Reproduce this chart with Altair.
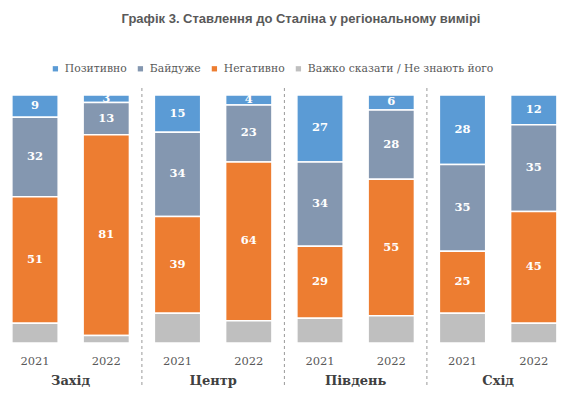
import altair as alt
import pandas as pd

regions = ["Захід", "Центр", "Південь", "Схід"]
years = ["2021", "2022"]
categories = ["Позитивно", "Байдуже", "Негативно", "Важко сказати / Не знають його"]
colors = ["#5B9BD5", "#8497B0", "#ED7D31", "#BFBFBF"]

positive = [9, 3, 15, 4, 27, 6, 28, 12]
indifferent = [32, 13, 34, 23, 34, 28, 35, 35]
negative = [51, 81, 39, 64, 29, 55, 25, 45]
hard_to_say = [8, 3, 12, 9, 10, 11, 12, 8]

series = [positive, indifferent, negative, hard_to_say]
SERIF = "DejaVu Serif"

rows = []
keys = []
for ri, r in enumerate(regions):
    for yi, y in enumerate(years):
        idx = ri * 2 + yi
        key = f"{r}|{y}"
        keys.append(key)
        for ci, c in enumerate(categories):
            rows.append({
                "key": key, "region": r, "year": y, "cat": c,
                "order": 3 - ci, "value": series[ci][idx],
                "label": "" if ci == 3 else str(series[ci][idx]),
            })
df = pd.DataFrame(rows)

region_df = pd.DataFrame({"key": [f"{r}|2021" for r in regions], "region": regions})
sep_df = pd.DataFrame({"key": [f"{r}|2022" for r in regions[:-1]]})

xscale = alt.Scale(domain=keys, range=[-8.6, 561.4], paddingInner=0, paddingOuter=0)
yscale = alt.Scale(domain=[0, 100])

base = alt.Chart(df)

bars = base.mark_bar(width=alt.RelativeBandSize(0.65), stroke="white", strokeWidth=1.5).encode(
    x=alt.X("key:N", scale=xscale, sort=keys,
            axis=alt.Axis(title=None, domain=False, ticks=False, labelAngle=0,
                          labelExpr="slice(datum.label, -4)", labelFont=SERIF,
                          labelFontSize=11.5, labelColor="#595959", labelPadding=12)),
    y=alt.Y("value:Q", stack="zero", scale=yscale, axis=None),
    color=alt.Color("cat:N", scale=alt.Scale(domain=categories, range=colors),
                    legend=alt.Legend(title=None, orient="none", direction="horizontal",
                                      legendX=42, legendY=-32, symbolType="square",
                                      symbolSize=28, symbolStrokeWidth=0,
                                      labelFont=SERIF, labelFontSize=10.8, labelLimit=400,
                                      labelColor="#595959", columnPadding=8,
                                      labelOffset=4)),
    order=alt.Order("order:Q"),
)

labels = base.transform_stack(
    stack="value", groupby=["key"], as_=["v0", "v1"], sort=[alt.SortField("order")]
).transform_calculate(
    mid="(datum.v0 + datum.v1) / 2"
).mark_text(font=SERIF, fontSize=11.5, fontWeight="bold", color="white",
            baseline="middle").encode(
    x=alt.X("key:N", scale=xscale, sort=keys),
    y=alt.Y("mid:Q", scale=yscale),
    text="label:N",
)

region_text = alt.Chart(region_df).mark_text(
    font=SERIF, fontSize=13, fontWeight="bold", color="#404040", baseline="middle"
).encode(
    x=alt.X("key:N", scale=xscale, sort=keys, bandPosition=1),
    y=alt.value(286),
    text="region:N",
)

seps = alt.Chart(sep_df).mark_rule(color="#9a9a9a", strokeWidth=1, strokeDash=[3, 3]).encode(
    x=alt.X("key:N", scale=xscale, sort=keys, bandPosition=1),
    y=alt.value(-7),
    y2=alt.value(300),
)

chart = alt.layer(bars, labels, seps, region_text).properties(
    width=554, height=248,
    autosize=alt.AutoSizeParams(type="none"),
    padding={"left": 0, "top": 87, "right": 0, "bottom": 45},
    title=alt.TitleParams("Графік 3. Ставлення до Сталіна у регіональному вимірі",
                          font="Liberation Sans", fontSize=13, fontWeight="bold",
                          color="#595959", offset=37, dx=16, anchor="middle"),
).configure_view(stroke=None)

chart.save("out.html", embed_options={"renderer": "svg", "actions": False})
